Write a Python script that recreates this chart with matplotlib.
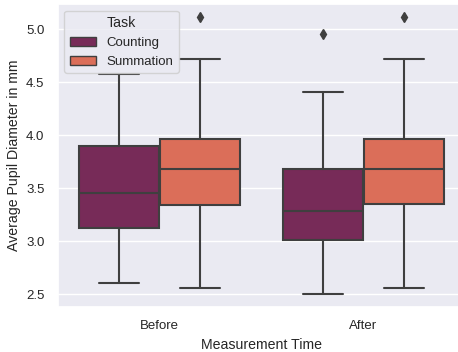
import matplotlib
matplotlib.use("Agg")
import matplotlib.pyplot as plt
from matplotlib.patches import Patch
import seaborn as sns

# Box summary per measurement time and task (mm)
times = ["Before", "After"]
tasks = ["Counting", "Summation"]

whislo = {"Counting": [2.61, 2.50], "Summation": [2.557, 2.559]}
q1 = {"Counting": [3.123, 3.015], "Summation": [3.345, 3.347]}
med = {"Counting": [3.453, 3.289], "Summation": [3.685, 3.685]}
q3 = {"Counting": [3.902, 3.679], "Summation": [3.962, 3.962]}
whishi = {"Counting": [4.581, 4.411], "Summation": [4.723, 4.723]}
fliers = {"Counting": [[], [4.958]], "Summation": [[5.12], [5.116]]}

sns.set_theme(style="darkgrid")
plt.rcParams["font.family"] = ["Liberation Sans", "DejaVu Sans"]

colors = sns.color_palette("rocket", 2)
colors = [sns.desaturate(c, 0.75) for c in colors]
line_color = "#3f3f3f"

fig = plt.figure(figsize=(4.58, 3.52), dpi=100)
ax = fig.add_axes([0.126, 0.128, 0.890, 0.860])

box_w = 0.4
for j, task in enumerate(tasks):
    stats = []
    for i in range(len(times)):
        stats.append({
            "whislo": whislo[task][i], "q1": q1[task][i], "med": med[task][i],
            "q3": q3[task][i], "whishi": whishi[task][i],
            "fliers": fliers[task][i],
        })
    offset = (j - 0.5) * box_w
    positions = [i + offset for i in range(len(times))]
    ax.bxp(
        stats, positions=positions, widths=box_w * 0.98, capwidths=box_w * 0.49,
        patch_artist=True, manage_ticks=False,
        boxprops=dict(facecolor=colors[j], edgecolor=line_color, linewidth=1.5),
        medianprops=dict(color=line_color, linewidth=1.5),
        whiskerprops=dict(color=line_color, linewidth=1.5),
        capprops=dict(color=line_color, linewidth=1.5),
        flierprops=dict(marker="d", markersize=5, markerfacecolor=line_color,
                        markeredgecolor=line_color),
    )

ax.set_xlim(-0.5, 1.5)
ax.set_ylim(2.38, 5.236)
ax.set_xticks(range(len(times)))
ax.set_xticklabels(times)
ax.set_yticks([2.5, 3.0, 3.5, 4.0, 4.5, 5.0])
ax.grid(False, axis="x")
ax.tick_params(labelsize=9.5, colors="#262626")
ax.set_xlabel("Measurement Time", fontsize=10.2, color="#262626")
ax.set_ylabel("Average Pupil Diameter in mm", fontsize=10.2, color="#262626")

handles = [Patch(facecolor=colors[j], edgecolor=line_color, linewidth=1.0, label=t)
           for j, t in enumerate(tasks)]
ax.legend(handles=handles, title="Task", loc="upper left",
          fontsize=9.5, title_fontsize=10.2)

fig.savefig("out.png", dpi=100)
